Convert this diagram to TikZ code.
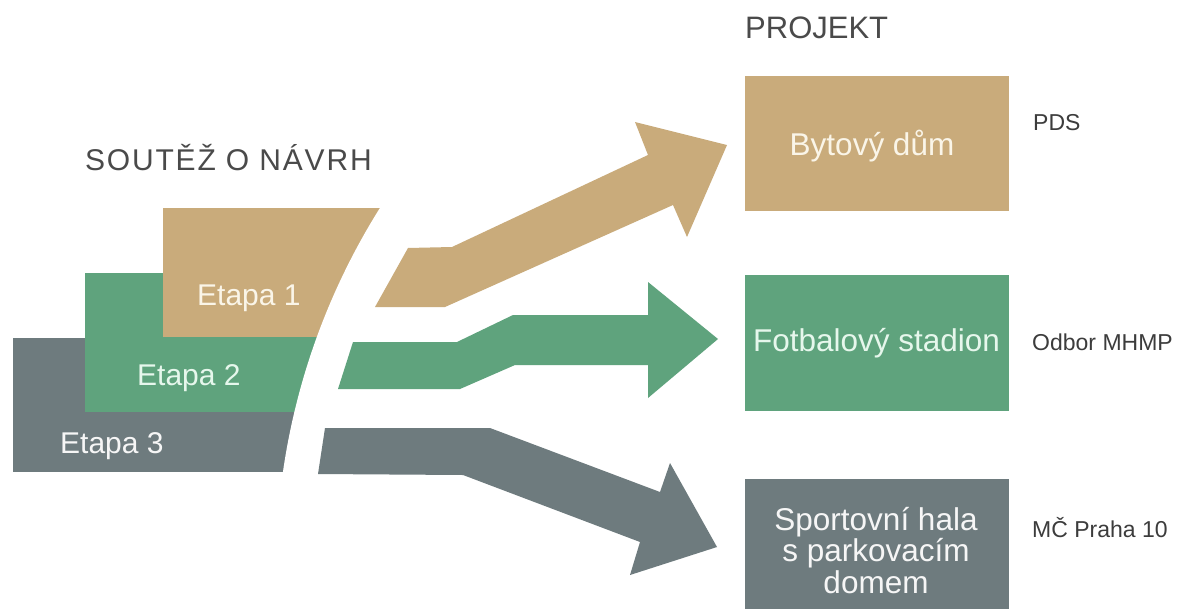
\documentclass[tikz,border=0pt]{standalone}
\usepackage{fontspec}
\setmainfont{Liberation Sans}
\newfontfamily\spacedfont[LetterSpace=6]{Liberation Sans}
\definecolor{ctan}{HTML}{C9AB7B}
\definecolor{cgreen}{HTML}{5FA37D}
\definecolor{cgray}{HTML}{6E7B7E}
\definecolor{thead}{HTML}{4A4A4A}
\definecolor{tside}{HTML}{3C3C3C}
\definecolor{ttan}{HTML}{FAF5E8}
\definecolor{tgreen}{HTML}{E6F7EC}
\definecolor{tgray}{HTML}{F6F6F6}
\tikzset{
  big/.style={font=\fontsize{30}{31.5}\selectfont, inner sep=0pt},
  boxtext/.style={font=\fontsize{31.5}{31.5}\selectfont, inner sep=0pt},
  head/.style={font=\fontsize{31}{33}\selectfont, inner sep=0pt, text=thead},
  side/.style={font=\fontsize{23}{26}\selectfont, inner sep=0pt, text=tside},
  projbox/.style={minimum width=264pt, minimum height=#1, inner sep=0pt, draw=none},
}
\begin{document}
\begin{tikzpicture}[x=1pt,y=-1pt]
\useasboundingbox (0,0) rectangle (1185,608);
\fill[white] (0,0) rectangle (1185,608);

% stages of the competition
\fill[cgray] (13,338) rectangle (430,472);
\fill[cgreen] (85,273) rectangle (430,412);
\fill[ctan] (163,208) rectangle (430,337);
% curved cut
\fill[white] (958.3,570.3) circle[radius=682.4];

\node[big, text=ttan, anchor=base west] (e1) at (197,305) {Etapa 1};
\node[big, text=tgreen, anchor=base west] (e2) at (137,385) {Etapa 2};
\node[big, text=tgray, anchor=base west] (e3) at (60,453) {Etapa 3};

% arrows
\fill[ctan] (408,248) -- (452,247) -- (648,155) -- (635,122) -- (727,145)
  -- (687,237) -- (673,205) -- (445,307) -- (375,307) -- cycle;
\fill[cgreen] (353,342) -- (457,342) -- (513,315) -- (648,315) -- (648,282)
  -- (718,339) -- (648,398) -- (648,365) -- (515,365) -- (460,389) -- (338,389) -- cycle;
\fill[cgray] (325,428) -- (490,428) -- (660,492) -- (670,463) -- (717,547)
  -- (630,575) -- (640,542) -- (463,475) -- (318,474) -- cycle;

% project boxes
\node[projbox=135pt, fill=ctan] (p1) at (877,143.5) {};
\node[projbox=136pt, fill=cgreen] (p2) at (877,343) {};
\node[projbox=140pt, fill=cgray, anchor=north] (p3) at (877,479) {};

\node[boxtext, text=ttan, anchor=base] (t1) at (872,155) {Bytový dům};
\node[boxtext, text=tgreen, anchor=base] (t2) at (876.5,351.5) {Fotbalový stadion};
\node[boxtext, text=tgray, align=center, anchor=north] (t3) at (876,507)
  {Sportovní hala\\s parkovacím\\domem};

% headings
\node[head, anchor=base west] (proj) at (745,38.5) {PROJEKT};
\node[head, font=\spacedfont\fontsize{30}{32}\selectfont, anchor=base west] (sout) at (85,170) {SOUTĚŽ O NÁVRH};

% side labels
\node[side, anchor=base west] (s1) at (1033,130) {PDS};
\node[side, anchor=base west] (s2) at (1032,350) {Odbor MHMP};
\node[side, anchor=base west] (s3) at (1032,537) {MČ Praha 10};
\end{tikzpicture}
\end{document}
